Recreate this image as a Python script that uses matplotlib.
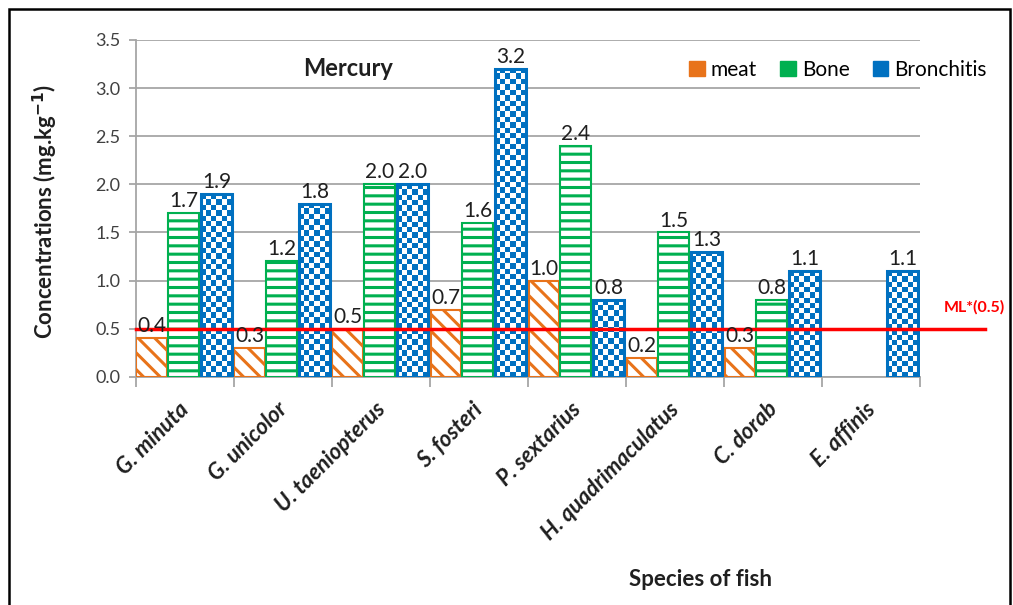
import numpy as np
import matplotlib
matplotlib.use('Agg')
import matplotlib.pyplot as plt
import matplotlib.transforms as mtransforms
from matplotlib.colors import ListedColormap
from matplotlib.patches import Patch, Rectangle

plt.rcParams['font.family'] = ['Lato', 'DejaVu Sans']
plt.rcParams['hatch.linewidth'] = 2.2

species = ['G. minuta', 'G. unicolor', 'U. taeniopterus', 'S. fosteri',
           'P. sextarius', 'H. quadrimaculatus', 'C. dorab', 'E. affinis']
meat = [0.4, 0.3, 0.5, 0.7, 1.0, 0.2, 0.3, None]
bone = [1.7, 1.2, 2.0, 1.6, 2.4, 1.5, 0.8, None]
bronchitis = [1.9, 1.8, 2.0, 3.2, 0.8, 1.3, 1.1, 1.1]
ml_limit = 0.5

ORANGE = '#E8731A'
GREEN = '#00B050'
BLUE = '#0070C0'
GRID = '#A6A6A6'
TEXT = '#1F1F1F'

fig = plt.figure(figsize=(10.13, 6.05), dpi=100)
ax = fig.add_axes([0.134, 0.377, 0.774, 0.557])

x = np.arange(len(species))
w = 0.315
offs = [-0.335, -0.01, 0.325]


def draw_bars(series, off, **kw):
    # missing values get no bar at all
    idx = [i for i, v in enumerate(series) if v is not None]
    hts = [series[i] for i in idx]
    return idx, ax.bar(x[idx] + off, hts, w, zorder=3, **kw)


i_meat, bars_meat = draw_bars(meat, offs[0], facecolor='white', edgecolor=ORANGE,
                              hatch='\\\\', linewidth=1.5)
i_bone, bars_bone = draw_bars(bone, offs[1], facecolor='white', edgecolor=GREEN,
                              hatch='--', linewidth=1.5)
i_br, bars_br = draw_bars(bronchitis, offs[2], facecolor='none', edgecolor=BLUE,
                          linewidth=2.2)

# checkerboard fill for the bronchitis bars
cmap = ListedColormap(['white', BLUE])
for b in bars_br:
    x0, bw, bh = b.get_x(), b.get_width(), b.get_height()
    nx = max(1, int(round(bw / 0.055)))
    ny = max(1, int(round(bh / 0.056)))
    grid = np.add.outer(np.arange(ny), np.arange(nx)) % 2
    im = ax.imshow(grid, cmap=cmap, extent=(x0, x0 + bw, 0, bh), origin='lower',
                   interpolation='nearest', aspect='auto', zorder=2)
    im.set_clip_path(b)

# value labels
for bars in (bars_meat, bars_bone, bars_br):
    for b in bars:
        v = b.get_height()
        ax.text(b.get_x() + b.get_width() / 2, v + 0.02, f'{v:.1f}', ha='center',
                va='bottom', fontsize=15, color=TEXT, zorder=5)

# maximum level line
ax.plot([0, 1.083], [ml_limit, ml_limit], color='red', lw=2.5, zorder=4,
        transform=ax.get_yaxis_transform(), clip_on=False)
ax.text(1.07, ml_limit + 0.22, 'ML*(0.5)', transform=ax.get_yaxis_transform(),
        ha='center', va='center', color='red', fontsize=11.5, fontweight='bold')

ax.set_xlim(-0.5, len(species) - 0.5)
ax.set_ylim(0, 3.5)
ax.set_yticks(np.arange(0, 3.51, 0.5))
ax.set_yticklabels([f'{t:.1f}' for t in np.arange(0, 3.51, 0.5)], fontsize=13, color='#404040')
ax.yaxis.grid(True, color=GRID, lw=1.3)
ax.set_axisbelow(True)
ax.set_xticks(np.arange(-0.5, len(species)), labels=[])
ax.tick_params(axis='x', length=7, color=GRID, width=1.3)
ax.tick_params(axis='y', length=5, color=GRID, width=1.3, pad=6)
for s in ['top', 'right']:
    ax.spines[s].set_visible(False)
for s in ['left', 'bottom']:
    ax.spines[s].set_color(GRID)
    ax.spines[s].set_linewidth(1.3)

# rotated species names
lab_tr = mtransforms.offset_copy(ax.get_xaxis_transform(), fig=fig, x=1, y=-29, units='dots')
for xi, name in zip(x, species):
    ax.text(xi, 0, name, transform=lab_tr, rotation=45, rotation_mode='anchor',
            ha='right', va='center', fontsize=16, fontweight='bold', style='italic',
            color=TEXT)

fig.text(348 / 1013, 1 - 68 / 605, 'Mercury', ha='center', va='center',
         fontsize=17, fontweight='bold', color=TEXT)
fig.text(45 / 1013, 1 - 212 / 605, 'Concentrations (mg.kg$^{\\mathbf{-1}}$)', rotation=90,
         ha='center', va='center', fontsize=16, fontweight='bold', color=TEXT)
fig.text(700 / 1013, 1 - 580 / 605, 'Species of fish', ha='center', va='center',
         fontsize=16, fontweight='bold', color=TEXT)

handles = [Patch(facecolor=ORANGE, edgecolor=ORANGE, label='meat'),
           Patch(facecolor=GREEN, edgecolor=GREEN, label='Bone'),
           Patch(facecolor=BLUE, edgecolor=BLUE, label='Bronchitis')]
fig.legend(handles=handles, loc='center', bbox_to_anchor=(838 / 1013, 1 - 70 / 605),
           ncol=3, frameon=False, fontsize=15, handlelength=0.75, handleheight=0.75,
           handletextpad=0.3, columnspacing=1.1)

fig.patches.append(Rectangle((9 / 1013, -0.1), 1001 / 1013, 1.1 - 9 / 605, fill=False,
                             edgecolor='black', lw=1.8, transform=fig.transFigure))

fig.savefig('out.png', dpi=100)
